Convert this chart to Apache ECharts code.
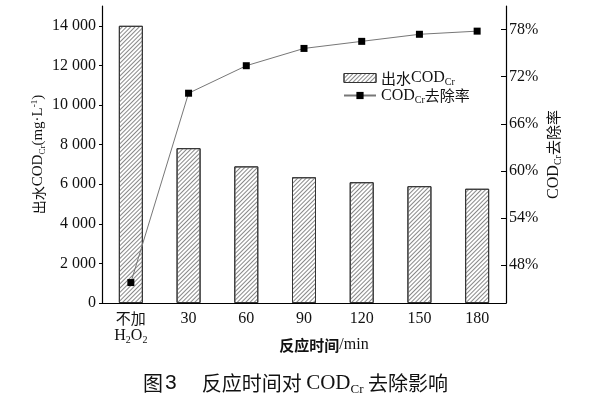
<!DOCTYPE html>
<html>
<head>
<meta charset="utf-8">
<script src="https://cdn.jsdelivr.net/npm/echarts@6/dist/echarts.min.js"></script>
<style>
  html, body { margin: 0; padding: 0; background: #fff; }
  #chart { width: 591px; height: 398px; }
</style>
</head>
<body>
<div id="chart"></div>
<script>
// 反应时间 (min)
var categories = ['不加H2O2', '30', '60', '90', '120', '150', '180']
// 出水COD_Cr (mg/L)
var codValues = [14000, 7820, 6900, 6350, 6100, 5900, 5770]
// COD_Cr 去除率 (%)
var removalRates = [45.8, 69.9, 73.4, 75.6, 76.5, 77.4, 77.8]
var leftTicks = [0, 2000, 4000, 6000, 8000, 10000, 12000, 14000]
var rightTicks = [48, 54, 60, 66, 72, 78]

var serif = 'Liberation Serif'
var cjk = 'Noto Sans CJK SC'
var textColor = '#111'

function richSet(size) {
  return {
    t: { fontFamily: serif, fontSize: size, color: textColor, fontWeight: 'normal' },
    cn: { fontFamily: cjk, fontSize: size - 1, color: textColor, fontWeight: 'normal' },
    cnb: { fontFamily: cjk, fontSize: size - 1, color: textColor, fontWeight: 'bold' },
    s: { fontFamily: serif, fontSize: Math.round(size * 0.6), color: textColor, fontWeight: 'normal', padding: [Math.round(size * 0.55), 0, 0, 0] },
    sup: { fontFamily: serif, fontSize: Math.round(size * 0.6), color: textColor, fontWeight: 'normal', padding: [0, 0, Math.round(size * 0.5), 0] },
    n: { fontFamily: 'Liberation Sans', fontSize: size, color: textColor, fontWeight: 'normal', padding: [0, 25, 0, 2] }
  }
}

var hatch = {
  symbol: 'rect',
  symbolSize: 1,
  dashArrayX: [1, 0],
  dashArrayY: [1, 2],
  rotation: -Math.PI / 4,
  color: '#888'
}

var myChart = echarts.init(document.getElementById('chart'))
var option = {
  backgroundColor: '#fff',
  animation: false,
  title: {
    text: '{cn|图}{n|3}{cn|反应时间对 }{t|COD}{s|Cr}{cn| 去除影响}',
    left: 'center',
    top: 366,
    textStyle: { fontWeight: 'normal', rich: richSet(21) }
  },
  legend: {
    orient: 'vertical',
    left: 338,
    top: 65,
    itemWidth: 32,
    itemHeight: 9,
    itemGap: 0,
    data: [
      { name: 'cod', icon: 'rect', itemStyle: { color: '#fff', borderColor: '#333', borderWidth: 1, decal: hatch } },
      { name: 'rate' }
    ],
    formatter: function (name) {
      if (name === 'cod') return '{cn|出水}{t|COD}{s|Cr}'
      return '{t|COD}{s|Cr}{cn|去除率}'
    },
    textStyle: { rich: richSet(16) }
  },
  grid: { left: 102, right: 85, top: 6, bottom: 95 },
  xAxis: {
    type: 'category',
    data: categories,
    name: '{cnb|反应时间}{t|/min}',
    nameLocation: 'middle',
    nameMoveOverlap: false,
    nameGap: 34,
    nameTextStyle: { rich: richSet(16), padding: [0, 0, 0, 40] },
    axisLine: { lineStyle: { color: '#000', width: 1.2 } },
    axisTick: { inside: true, alignWithLabel: true, length: 3, lineStyle: { color: '#000' } },
    axisLabel: {
      margin: 8,
      interval: 0,
      formatter: function (v) {
        if (v === '不加H2O2') return '{cn|不加}\n{t|H}{s|2}{t|O}{s|2}'
        return '{t|' + v + '}'
      },
      rich: richSet(16)
    }
  },
  yAxis: [
    {
      type: 'value',
      min: 0,
      max: 15000,
      name: '{cn|出水}{t|COD}{s|Cr}{t|(mg·L}{sup|-1}{t|)}',
      nameLocation: 'middle',
      nameMoveOverlap: false,
      nameRotate: 90,
      nameGap: 55,
      nameTextStyle: { rich: richSet(15), padding: [0, 0, 0, 0] },
      splitLine: { show: false },
      axisLine: { show: true, lineStyle: { color: '#000', width: 1.2 } },
      axisTick: { show: true, length: 3, customValues: leftTicks, lineStyle: { color: '#000' } },
      axisLabel: {
        margin: 6,
        customValues: leftTicks,
        fontFamily: serif,
        fontSize: 16,
        color: textColor,
        formatter: function (v) {
          return v >= 1000 ? Math.floor(v / 1000) + ' 000' : String(v)
        }
      }
    },
    {
      type: 'value',
      min: 43.2,
      max: 81,
      position: 'right',
      name: '{t|COD}{s|Cr}{cn|去除率}',
      nameLocation: 'middle',
      nameMoveOverlap: false,
      nameRotate: 90,
      nameGap: 38,
      nameTextStyle: { rich: richSet(16) },
      splitLine: { show: false },
      axisLine: { show: true, lineStyle: { color: '#000', width: 1.2 } },
      axisTick: { show: true, inside: true, length: 5, customValues: rightTicks, lineStyle: { color: '#000' } },
      axisLabel: {
        margin: 3,
        customValues: rightTicks,
        fontFamily: serif,
        fontSize: 16,
        color: textColor,
        formatter: '{value}%'
      }
    }
  ],
  series: [
    {
      name: 'cod',
      type: 'bar',
      yAxisIndex: 0,
      barWidth: 24,
      data: codValues,
      itemStyle: {
        color: '#fff',
        borderColor: '#333',
        borderWidth: 1,
        decal: hatch
      }
    },
    {
      name: 'rate',
      type: 'line',
      yAxisIndex: 1,
      data: removalRates,
      symbol: 'rect',
      symbolSize: 7,
      lineStyle: { color: '#777', width: 1 },
      itemStyle: { color: '#000' }
    }
  ]
}
myChart.setOption(option)
</script>
</body>
</html>
